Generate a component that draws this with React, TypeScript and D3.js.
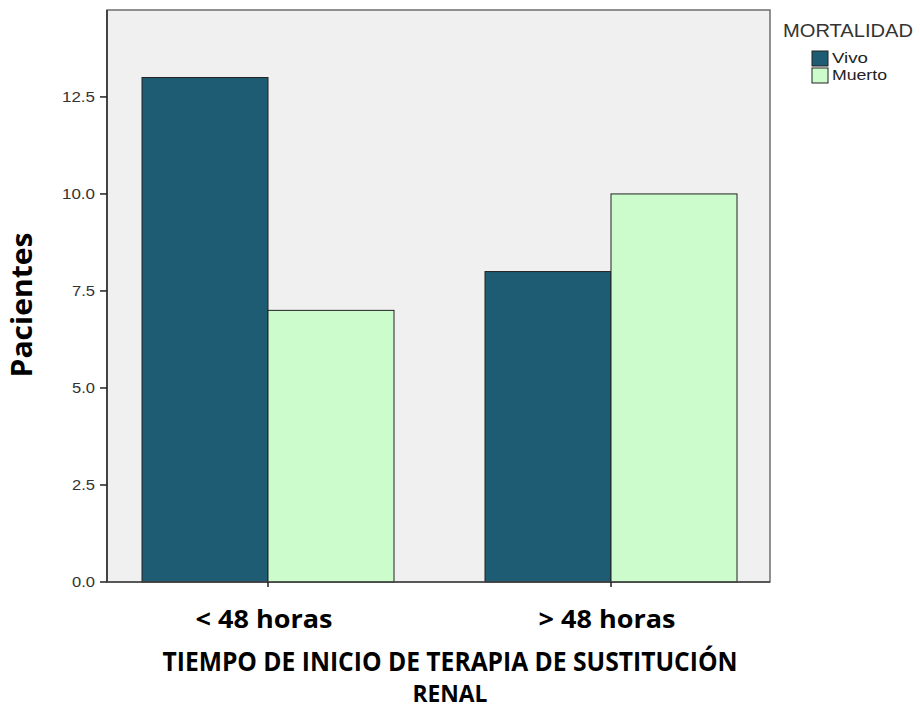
import React from "react";
import * as d3 from "d3";

const categories = ["< 48 horas", "> 48 horas"];
const seriesNames = ["Vivo", "Muerto"];
const vivoValues = [13, 8];
const muertoValues = [7, 10];
const yTicks = [0, 2.5, 5, 7.5, 10, 12.5];
const colors = ["#1e5c73", "#ccfccc"];

const W = 920, H = 711;
const plot = { left: 107, right: 770, top: 10, bottom: 582 };

export default function App() {
  const y = d3.scaleLinear().domain([0, 14.74]).range([plot.bottom, plot.top]);
  const x0 = d3.scaleOrdinal<string, number>().domain(categories).range([268, 611]);
  const barW = 126;
  const series = [vivoValues, muertoValues];
  const tickFont = "'Liberation Sans', Arial, sans-serif";
  const boldFont = "'Open Sans', sans-serif";
  const legendLen = [36, 55];
  return (
    <svg width={W} height={H} style={{ position: "absolute", left: 0, top: 0, background: "#fff" }}>
      <rect x={plot.left} y={plot.top} width={plot.right - plot.left} height={plot.bottom - plot.top} fill="#f0f0f0" stroke="#6e6e6e" strokeWidth={1.5} />
      {categories.map((c, i) =>
        series.map((vals, s) => {
          const cx = x0(c)!;
          const xLeft = s === 0 ? cx - barW : cx;
          return (
            <rect key={c + s} x={xLeft} y={y(vals[i])} width={barW} height={y(0) - y(vals[i])}
              fill={colors[s]} stroke="#222" strokeWidth={1} />
          );
        })
      )}
      <line x1={plot.left} x2={plot.left} y1={plot.top} y2={plot.bottom} stroke="#444" strokeWidth={2} />
      <line x1={plot.left} x2={plot.right} y1={plot.bottom} y2={plot.bottom} stroke="#444" strokeWidth={1.5} />
      {yTicks.map((t) => (
        <g key={t}>
          <line x1={plot.left - 7} x2={plot.left} y1={y(t)} y2={y(t)} stroke="#222" strokeWidth={1.5} />
          <text x={plot.left - 12} y={y(t)} dy="0.35em" textAnchor="end" fontFamily={tickFont} fontSize={14}
            textLength={t >= 10 ? 33 : 23} lengthAdjust="spacingAndGlyphs" fill="#333">
            {t.toFixed(1)}
          </text>
        </g>
      ))}
      {categories.map((c) => (
        <line key={c} x1={x0(c)!} x2={x0(c)!} y1={plot.bottom} y2={plot.bottom + 5} stroke="#222" strokeWidth={1.5} />
      ))}
      {categories.map((c) => (
        <text key={c} x={x0(c)! - 4} y={628} textAnchor="middle" fontFamily={boldFont} fontWeight="bold" fontSize={25}
          textLength={137} lengthAdjust="spacingAndGlyphs" fill="#000">
          {c}
        </text>
      ))}
      <text x={450} y={671} textAnchor="middle" fontFamily={boldFont} fontWeight="bold" fontSize={26}
        textLength={575} lengthAdjust="spacingAndGlyphs" fill="#000">
        TIEMPO DE INICIO DE TERAPIA DE SUSTITUCIÓN
      </text>
      <text x={450} y={702} textAnchor="middle" fontFamily={boldFont} fontWeight="bold" fontSize={24}
        textLength={75} lengthAdjust="spacingAndGlyphs" fill="#000">
        RENAL
      </text>
      <text transform={`translate(32, 305) rotate(-90)`} textAnchor="middle" fontFamily={boldFont} fontWeight="bold" fontSize={29}
        textLength={145} lengthAdjust="spacingAndGlyphs" fill="#000">
        Pacientes
      </text>
      <text x={783} y={37} fontFamily={tickFont} fontSize={18} textLength={130} lengthAdjust="spacingAndGlyphs" fill="#333">MORTALIDAD</text>
      {seriesNames.map((n, i) => (
        <g key={n}>
          <rect x={812} y={51 + i * 17} width={16} height={15} fill={colors[i]} stroke="#222" strokeWidth={1} />
          <text x={832} y={58.5 + i * 17} dy="0.35em" fontFamily={tickFont} fontSize={14}
            textLength={legendLen[i]} lengthAdjust="spacingAndGlyphs" fill="#222">{n}</text>
        </g>
      ))}
    </svg>
  );
}
